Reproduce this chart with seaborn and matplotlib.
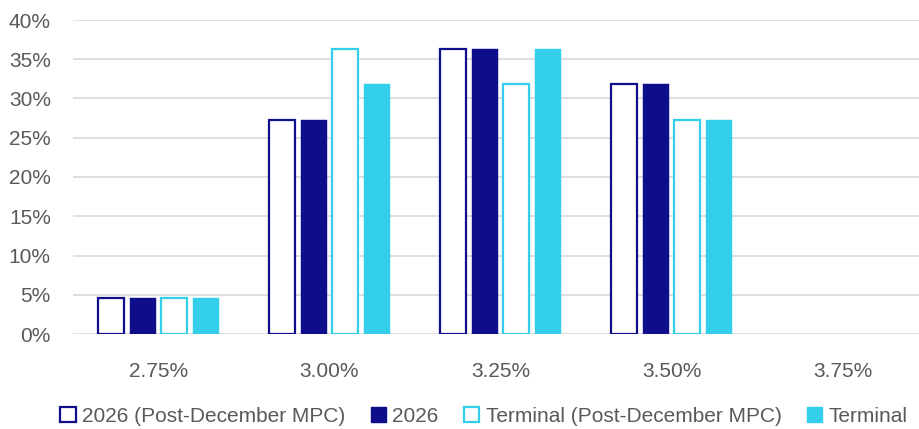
import numpy as np
import pandas as pd
from matplotlib import pyplot as plt
from matplotlib.patches import Patch
import seaborn as sns

rates = ['2.75%', '3.00%', '3.25%', '3.50%', '3.75%']
series = ['2026 (Post-December MPC)', '2026', 'Terminal (Post-December MPC)', 'Terminal']
post_2026 = [4.55, 27.27, 36.36, 31.82, 0.0]
curr_2026 = [4.55, 27.27, 36.36, 31.82, 0.0]
post_terminal = [4.55, 36.36, 31.82, 27.27, 0.0]
curr_terminal = [4.55, 31.82, 36.36, 27.27, 0.0]

navy = '#0E0E8A'
cyan = '#33CEEA'
colors = [navy, navy, cyan, cyan]
hollow = [True, False, True, False]

df = pd.DataFrame({
    'rate': rates * 4,
    'series': np.repeat(series, len(rates)),
    'value': post_2026 + curr_2026 + post_terminal + curr_terminal,
})

sns.set_style('white')
plt.rcParams['font.family'] = ['Liberation Sans', 'DejaVu Sans']
text_color = '#595959'

fig = plt.figure(figsize=(9.2, 4.29), dpi=100)
ax = fig.add_axes([73 / 920, 95 / 429, 855 / 920, 314 / 429])

sns.barplot(data=df, x='rate', y='value', hue='series', hue_order=series,
            palette=colors, width=0.74, gap=0.18, ax=ax, legend=False,
            saturation=1, errorbar=None)

# hollow style for the post-December series, hide empty bars
n = len(rates)
for i, patch in enumerate(ax.patches[:4 * n]):
    s = i // n
    if patch.get_height() == 0:
        patch.set_visible(False)
    if hollow[s]:
        patch.set_facecolor('white')
        patch.set_edgecolor(colors[s])
        patch.set_linewidth(1.6)
    else:
        patch.set_edgecolor(colors[s])
        patch.set_linewidth(0.3)
    patch.set_zorder(3)

ax.set_xlim(-0.5, 4.5)
ax.set_ylim(0, 40)
ax.set_yticks(range(0, 41, 5))
ax.set_yticklabels([f'{v}%' for v in range(0, 41, 5)])
ax.yaxis.grid(True, color='#D9D9D9', linewidth=1.2, zorder=0)
ax.set_axisbelow(True)
for sp in ax.spines.values():
    sp.set_visible(False)
ax.tick_params(axis='both', length=0, labelsize=15, labelcolor=text_color)
ax.tick_params(axis='y', pad=16)
ax.tick_params(axis='x', pad=20)
ax.set_xlabel('')
ax.set_ylabel('')

handles = []
for s in range(4):
    if hollow[s]:
        handles.append(Patch(facecolor='white', edgecolor=colors[s], linewidth=1.6, label=series[s]))
    else:
        handles.append(Patch(facecolor=colors[s], edgecolor=colors[s], label=series[s]))
fig.legend(handles=handles, loc='center', bbox_to_anchor=(0.526, 13 / 429), ncol=4,
           frameon=False, fontsize=15, labelcolor=text_color, handlelength=0.75,
           handleheight=0.75, handletextpad=0.3, columnspacing=1.2)

fig.savefig('out.png', dpi=100)
